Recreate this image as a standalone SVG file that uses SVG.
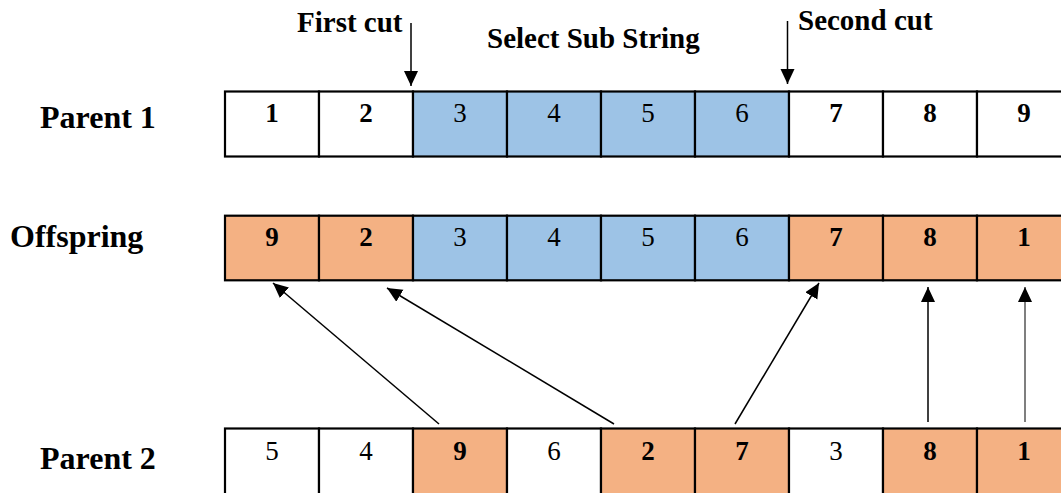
<svg xmlns="http://www.w3.org/2000/svg" width="1061" height="493" viewBox="0 0 1061 493">
  <style>
    .cell { stroke: #000; stroke-width: 2.2; }
    .plain { fill: #ffffff; }
    .sub { fill: #9DC3E6; }
    .fill { fill: #F4B183; }
    .num { font-family: "Liberation Serif", "Times New Roman", serif; font-size: 27px; fill: #000; text-anchor: middle; }
    .b { font-weight: bold; }
    .label { font-family: "Liberation Serif", "Times New Roman", serif; font-size: 32px; font-weight: bold; fill: #000; }
    .note { font-family: "Liberation Serif", "Times New Roman", serif; font-size: 29px; font-weight: bold; fill: #000; }
    .link { stroke: #000; stroke-width: 1.5; fill: none; }
  </style>
  <defs>
    <marker id="head" markerUnits="userSpaceOnUse" markerWidth="16" markerHeight="15" refX="15" refY="7" orient="auto">
      <path d="M0,0 L15,7 L0,14 Z" fill="#000"/>
    </marker>
  </defs>

  <rect width="1061" height="493" fill="#ffffff"/>

  <!-- row labels -->
  <g id="label-parent1"><text class="label" x="40" y="128">Parent 1</text></g>
  <g id="label-offspring"><text class="label" x="10" y="247">Offspring</text></g>
  <g id="label-parent2"><text class="label" x="40" y="469">Parent 2</text></g>

  <!-- cut markers and heading -->
  <g id="first-cut">
    <text class="note" x="297" y="32">First cut</text>
  </g>
  <g id="select-substring">
    <text class="note" x="487" y="48">Select Sub String</text>
  </g>
  <g id="second-cut">
    <text class="note" x="798" y="30">Second cut</text>
  </g>

  <!-- Parent 1 -->
  <g id="parent1">
    <rect class="cell plain" x="225" y="91.5" width="94" height="65"/>
    <rect class="cell plain" x="319" y="91.5" width="94" height="65"/>
    <rect class="cell sub" x="413" y="91.5" width="94" height="65"/>
    <rect class="cell sub" x="507" y="91.5" width="94" height="65"/>
    <rect class="cell sub" x="601" y="91.5" width="94" height="65"/>
    <rect class="cell sub" x="695" y="91.5" width="94" height="65"/>
    <rect class="cell plain" x="789" y="91.5" width="94" height="65"/>
    <rect class="cell plain" x="883" y="91.5" width="94" height="65"/>
    <rect class="cell plain" x="977" y="91.5" width="94" height="65"/>
    <text class="num b" x="272" y="121.5">1</text>
    <text class="num b" x="366" y="121.5">2</text>
    <text class="num" x="460" y="121.5">3</text>
    <text class="num" x="554" y="121.5">4</text>
    <text class="num" x="648" y="121.5">5</text>
    <text class="num" x="742" y="121.5">6</text>
    <text class="num b" x="836" y="121.5">7</text>
    <text class="num b" x="930" y="121.5">8</text>
    <text class="num b" x="1024" y="121.5">9</text>
  </g>

  <!-- Offspring -->
  <g id="offspring">
    <rect class="cell fill" x="225" y="215.7" width="94" height="64.6"/>
    <rect class="cell fill" x="319" y="215.7" width="94" height="64.6"/>
    <rect class="cell sub" x="413" y="215.7" width="94" height="64.6"/>
    <rect class="cell sub" x="507" y="215.7" width="94" height="64.6"/>
    <rect class="cell sub" x="601" y="215.7" width="94" height="64.6"/>
    <rect class="cell sub" x="695" y="215.7" width="94" height="64.6"/>
    <rect class="cell fill" x="789" y="215.7" width="94" height="64.6"/>
    <rect class="cell fill" x="883" y="215.7" width="94" height="64.6"/>
    <rect class="cell fill" x="977" y="215.7" width="94" height="64.6"/>
    <text class="num b" x="272" y="245.5">9</text>
    <text class="num b" x="366" y="245.5">2</text>
    <text class="num" x="460" y="245.5">3</text>
    <text class="num" x="554" y="245.5">4</text>
    <text class="num" x="648" y="245.5">5</text>
    <text class="num" x="742" y="245.5">6</text>
    <text class="num b" x="836" y="245.5">7</text>
    <text class="num b" x="930" y="245.5">8</text>
    <text class="num b" x="1024" y="245.5">1</text>
  </g>

  <!-- Parent 2 -->
  <g id="parent2">
    <rect class="cell plain" x="225" y="428.5" width="94" height="70"/>
    <rect class="cell plain" x="319" y="428.5" width="94" height="70"/>
    <rect class="cell fill" x="413" y="428.5" width="94" height="70"/>
    <rect class="cell plain" x="507" y="428.5" width="94" height="70"/>
    <rect class="cell fill" x="601" y="428.5" width="94" height="70"/>
    <rect class="cell fill" x="695" y="428.5" width="94" height="70"/>
    <rect class="cell plain" x="789" y="428.5" width="94" height="70"/>
    <rect class="cell fill" x="883" y="428.5" width="94" height="70"/>
    <rect class="cell fill" x="977" y="428.5" width="94" height="70"/>
    <text class="num" x="272" y="460">5</text>
    <text class="num" x="366" y="460">4</text>
    <text class="num b" x="460" y="460">9</text>
    <text class="num" x="554" y="460">6</text>
    <text class="num b" x="648" y="460">2</text>
    <text class="num b" x="742" y="460">7</text>
    <text class="num" x="836" y="460">3</text>
    <text class="num b" x="930" y="460">8</text>
    <text class="num b" x="1024" y="460">1</text>
  </g>

  <!-- connectors -->
  <g id="connectors">
    <line class="link" x1="411" y1="23" x2="411" y2="86" marker-end="url(#head)"/>
    <line class="link" x1="787.5" y1="21" x2="787.5" y2="84" stroke="#333" marker-end="url(#head)"/>
    <line class="link" x1="439" y1="424" x2="273" y2="283" marker-end="url(#head)"/>
    <line class="link" x1="614" y1="424" x2="387" y2="288" marker-end="url(#head)"/>
    <line class="link" x1="735" y1="424" x2="819" y2="283" marker-end="url(#head)"/>
    <line class="link" x1="928" y1="422" x2="928" y2="287" marker-end="url(#head)"/>
    <line class="link" x1="1025" y1="422" x2="1025" y2="287" style="stroke:#555" marker-end="url(#head)"/>
  </g>
</svg>
